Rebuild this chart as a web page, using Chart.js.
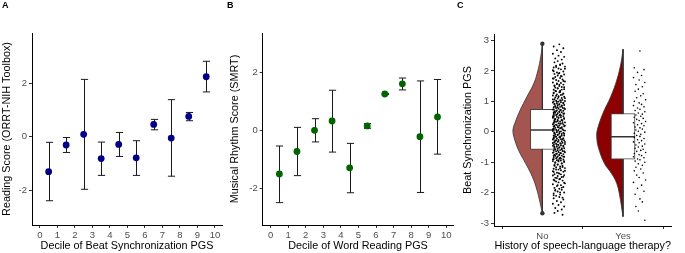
<!DOCTYPE html>
<html>
<head>
<meta charset="utf-8">
<script src="https://cdn.jsdelivr.net/npm/chart.js@4.4.1/dist/chart.umd.min.js"></script>
<style>
  body { margin: 0; background: #fff; }
  #wrap { position: relative; width: 685px; height: 253px; overflow: hidden; }
  canvas { position: absolute; top: 0; }
  .tag { position: absolute; top: 0; font: bold 9px 'Liberation Sans', Arial, sans-serif; color: #000; }
</style>
</head>
<body>
<div id="wrap">
  <canvas id="chartA" width="228" height="253" style="left:0"></canvas>
  <canvas id="chartB" width="233" height="253" style="left:228px"></canvas>
  <canvas id="chartC" width="224" height="253" style="left:461px"></canvas>
  <div class="tag" style="left:2px">A</div>
  <div class="tag" style="left:227px">B</div>
  <div class="tag" style="left:457px">C</div>
</div>
<script>
// panel A / B: decile means with error bars
const deciles = [0.5, 1.5, 2.5, 3.5, 4.5, 5.5, 6.5, 7.5, 8.5, 9.5];
const decileTicks = [0, 1, 2, 3, 4, 5, 6, 7, 8, 9, 10];
const scoreTicks = [-2, 0, 2];

const readingMean = [-1.31, -0.31, 0.09, -0.82, -0.29, -0.79, 0.46, -0.05, 0.76, 2.25];
const readingLo = [-2.40, -0.59, -1.97, -1.45, -0.74, -1.45, 0.26, -1.48, 0.60, 1.68];
const readingHi = [-0.21, -0.03, 2.15, -0.20, 0.16, -0.15, 0.65, 1.39, 0.91, 2.83];

const rhythmMean = [-1.50, -0.73, 0.00, 0.32, -1.29, 0.15, 1.25, 1.60, -0.22, 0.46];
const rhythmLo = [-2.49, -1.56, -0.40, -0.75, -2.15, 0.07, 1.23, 1.39, -2.14, -0.82];
const rhythmHi = [-0.54, 0.10, 0.40, 1.38, -0.45, 0.23, 1.27, 1.80, 1.70, 1.75];

// panel C: raincloud of beat synchronization PGS
const groups = ['No', 'Yes'];
const groupTicks = [1, 2];
const pgsTicks = [-3, -2, -1, 0, 1, 2, 3];

const noViolinY = [2.89, 2.47, 2.03, 1.60, 1.15, 0.71, 0.28, 0.06, -0.16, -0.60, -1.04, -1.48, -1.92, -2.36, -2.67];
const noViolinW = [0, 0.020, 0.054, 0.104, 0.192, 0.276, 0.342, 0.365, 0.354, 0.296, 0.207, 0.123, 0.066, 0.026, 0];
const yesViolinY = [2.71, 2.25, 1.70, 1.15, 0.60, 0.06, -0.16, -0.49, -1.04, -1.37, -1.70, -2.14, -2.58, -2.78];
const yesViolinW = [0, 0.026, 0.077, 0.153, 0.250, 0.319, 0.326, 0.308, 0.230, 0.142, 0.077, 0.038, 0.012, 0];

// q1, median, q3
const noBox = [-0.58, 0.06, 0.74];
const yesBox = [-0.90, -0.16, 0.60];
const noOutliers = [2.89, -2.67];

const noPoints = [
  2.87, 2.80, 2.74, 2.68, 2.62, 2.56, 2.50, 2.46, 2.41, 2.37, 2.32, 2.28, 2.24, 2.21, 2.17, 2.14, 2.11, 2.08, 2.05, 2.02,
  1.98, 1.95, 1.93, 1.90, 1.88, 1.85, 1.82, 1.80, 1.77, 1.75, 1.72, 1.70, 1.67, 1.65, 1.62, 1.60, 1.57, 1.55, 1.52, 1.50,
  1.47, 1.45, 1.43, 1.40, 1.38, 1.35, 1.33, 1.30, 1.28, 1.26, 1.23, 1.21, 1.19, 1.17, 1.15, 1.13, 1.11, 1.09, 1.07, 1.05,
  1.04, 1.02, 1.01, 1.00, 0.99, 0.97, 0.96, 0.94, 0.93, 0.91, 0.90, 0.88, 0.87, 0.85, 0.84, 0.82, 0.81, 0.79, 0.78, 0.76,
  0.75, 0.73, 0.72, 0.70, 0.69, 0.67, 0.66, 0.64, 0.63, 0.61, 0.60, 0.58, 0.57, 0.55, 0.54, 0.52, 0.51, 0.49, 0.48, 0.46,
  0.45, 0.43, 0.42, 0.40, 0.39, 0.37, 0.36, 0.34, 0.33, 0.31, 0.30, 0.28, 0.27, 0.25, 0.24, 0.22, 0.21, 0.19, 0.18, 0.16,
  0.15, 0.13, 0.12, 0.10, 0.09, 0.07, 0.06, 0.04, 0.03, 0.01, -0.01, -0.03, -0.04, -0.06, -0.07, -0.09, -0.10, -0.12, -0.13, -0.15,
  -0.16, -0.18, -0.19, -0.21, -0.22, -0.24, -0.25, -0.27, -0.28, -0.30, -0.31, -0.33, -0.34, -0.36, -0.37, -0.39, -0.40, -0.42, -0.43, -0.45,
  -0.46, -0.48, -0.49, -0.51, -0.52, -0.54, -0.55, -0.57, -0.58, -0.60, -0.61, -0.63, -0.64, -0.66, -0.67, -0.69, -0.70, -0.72, -0.73, -0.75,
  -0.76, -0.78, -0.79, -0.81, -0.82, -0.84, -0.85, -0.87, -0.88, -0.90, -0.91, -0.93, -0.94, -0.96, -0.97, -0.99, -1.02, -1.04, -1.07, -1.09,
  -1.11, -1.14, -1.16, -1.19, -1.21, -1.24, -1.26, -1.29, -1.31, -1.34, -1.37, -1.39, -1.42, -1.45, -1.48, -1.51, -1.54, -1.57, -1.60, -1.63,
  -1.66, -1.69, -1.72, -1.75, -1.78, -1.81, -1.84, -1.87, -1.90, -1.93, -1.96, -1.99, -2.02, -2.06, -2.10, -2.14, -2.18, -2.22, -2.27, -2.31,
  -2.36, -2.40, -2.45, -2.50, -2.55, -2.60, -2.66, -2.72,
  2.19, 2.13, 2.07, 1.99, 1.91, 1.83, 1.75, 1.67, 1.585, 1.545, 1.505, 1.465, 1.425, 1.385, 1.345, 1.305, 1.265, 1.225,
  1.185, 1.145, 1.105, 1.065, 1.025, 0.985, 0.955, 0.925, 0.895, 0.865, 0.835, 0.805, 0.775, 0.745, 0.715, 0.685, 0.655,
  0.625, 0.595, 0.565, 0.535, 0.505, 0.475, 0.445, 0.415, 0.385, 0.355, 0.325, 0.295, 0.265, 0.235, 0.205, 0.175, 0.145,
  0.115, 0.085, 0.055, 0.025, -0.005, -0.035, -0.065, -0.095, -0.125, -0.155, -0.185, -0.215, -0.245, -0.275, -0.305,
  -0.335, -0.365, -0.395, -0.425, -0.455, -0.485, -0.515, -0.545, -0.575, -0.605, -0.635, -0.665, -0.695, -0.725, -0.755,
  -0.785, -0.815, -0.845, -0.875, -0.905, -0.935, -0.965, -0.995, -1.035, -1.075, -1.115, -1.155, -1.195, -1.235, -1.275,
  -1.315, -1.355, -1.395, -1.435, -1.475, -1.515, -1.555, -1.595, -1.67, -1.75, -1.83, -1.91, -1.99, -2.08, -2.16
];
const yesPoints = [
  2.65, 2.10, 2.04, 1.95, 1.85, 1.78, 1.70, 1.62, 1.55, 1.48, 1.40, 1.33, 1.25, 1.18, 1.12, 1.05, 1.00, 0.95, 0.90, 0.86,
  0.82, 0.78, 0.74, 0.70, 0.66, 0.62, 0.58, 0.55, 0.51, 0.48, 0.44, 0.41, 0.37, 0.34, 0.30, 0.27, 0.23, 0.20, 0.16, 0.13,
  0.09, 0.06, 0.02, -0.01, -0.05, -0.08, -0.12, -0.15, -0.19, -0.22, -0.26, -0.29, -0.33, -0.36, -0.40, -0.43, -0.47, -0.50, -0.54, -0.57,
  -0.61, -0.64, -0.68, -0.71, -0.75, -0.78, -0.82, -0.85, -0.89, -0.92, -0.96, -1.00, -1.05, -1.10, -1.16, -1.22, -1.28, -1.35, -1.42, -1.50,
  -1.58, -1.66, -1.75, -1.85, -1.95, -2.05, -2.20, -2.30, -2.45, -2.60, -2.90
];
// horizontal jitter (x offset to the right of each group)
const jitter = [0.21, 0.14, 0.26, 0.18, 0.23, 0.13, 0.20, 0.27, 0.16, 0.24, 0.19, 0.15, 0.25, 0.22, 0.17, 0.28,
  0.14, 0.20, 0.23, 0.13, 0.26, 0.18, 0.21, 0.15, 0.27, 0.19, 0.24, 0.16, 0.22, 0.14, 0.25, 0.17, 0.20, 0.28,
  0.13, 0.23, 0.18, 0.26, 0.15, 0.21, 0.24, 0.16, 0.19, 0.27, 0.14, 0.22, 0.17];

Chart.defaults.font.family = "'Liberation Sans', Arial, sans-serif";
Chart.defaults.animation = false;
Chart.defaults.plugins.legend.display = false;
Chart.defaults.plugins.tooltip.enabled = false;

function axis(o) {
  return {
    type: 'linear', min: o.min, max: o.max, offset: false,
    afterBuildTicks: s => { s.ticks = o.ticks.map(v => ({ value: v })); },
    afterFit: s => { if (o.horizontal) s.height = o.size; else s.width = o.size; },
    grid: { drawOnChartArea: false, drawTicks: true, tickLength: 3, tickColor: '#333', tickWidth: 1 },
    border: { display: true, color: '#000', width: 1 },
    ticks: {
      color: '#4d4d4d', font: { size: 9.5 }, padding: 2, autoSkip: false, maxRotation: 0,
      callback: (v, i) => o.labels ? o.labels[i] : String(v)
    },
    title: { display: true, text: o.title, color: '#000', font: { size: 10.8 }, padding: { top: 1, bottom: 0 } }
  };
}

const errorBars = {
  id: 'errorBars',
  beforeDatasetsDraw(chart) {
    const { ctx, scales: { x, y } } = chart;
    const ds = chart.data.datasets[0];
    ctx.save();
    ctx.strokeStyle = '#1a1a1a';
    ctx.lineWidth = 1;
    ds.data.forEach((p, i) => {
      const px = Math.round(x.getPixelForValue(p.x)) + 0.5;
      const top = y.getPixelForValue(ds.hi[i]);
      const bot = y.getPixelForValue(ds.lo[i]);
      ctx.beginPath();
      ctx.moveTo(px, top); ctx.lineTo(px, bot);
      ctx.moveTo(px - 3.6, top); ctx.lineTo(px + 3.6, top);
      ctx.moveTo(px - 3.6, bot); ctx.lineTo(px + 3.6, bot);
      ctx.stroke();
    });
    ctx.restore();
  }
};

function decilePanel(id, means, lo, hi, color, xTitle, yTitle, yMin, yMax, yWidth, padRight) {
  new Chart(document.getElementById(id), {
    type: 'scatter',
    data: {
      datasets: [{
        data: deciles.map((d, i) => ({ x: d, y: means[i] })),
        lo: lo, hi: hi,
        backgroundColor: color, borderWidth: 0, pointRadius: 3.4
      }]
    },
    options: {
      responsive: false,
      layout: { padding: { top: 33, right: padRight, left: 0, bottom: 0 } },
      scales: {
        x: axis({ min: -0.45, max: 10.4, ticks: decileTicks, title: xTitle, horizontal: true, size: 28 }),
        y: axis({ min: yMin, max: yMax, ticks: scoreTicks, title: yTitle, size: yWidth })
      }
    },
    plugins: [errorBars]
  });
}

decilePanel('chartA', readingMean, readingLo, readingHi, '#00008b',
  'Decile of Beat Synchronization PGS', 'Reading Score (ORRT-NIH Toolbox)', -3.31, 3.89, 32, 6);
decilePanel('chartB', rhythmMean, rhythmLo, rhythmHi, '#006400',
  'Decile of Word Reading PGS', 'Musical Rhythm Score (SMRT)', -3.26, 3.35, 34.7, 7.7);

function violin(center, ys, ws) {
  return ys.map((v, i) => ({ x: center - ws[i], y: v }));
}
function rain(center, ys) {
  return ys.map((v, i) => ({ x: center + jitter[i % jitter.length], y: v }));
}

new Chart(document.getElementById('chartC'), {
  type: 'scatter',
  data: {
    datasets: [
      { type: 'line', indexAxis: 'y', data: violin(1, noViolinY, noViolinW), fill: { value: 1 },
        backgroundColor: '#a5554f', borderColor: '#333', borderWidth: 0.8, pointRadius: 0, tension: 0.4, order: 6 },
      { type: 'line', indexAxis: 'y', data: violin(2, yesViolinY, yesViolinW), fill: { value: 2 },
        backgroundColor: '#8b0000', borderColor: '#333', borderWidth: 0.8, pointRadius: 0, tension: 0.4, order: 6 },
      { type: 'line', data: [{ x: 1, y: noViolinY[0] }, { x: 1, y: noViolinY[noViolinY.length - 1] }],
        borderColor: '#333', borderWidth: 1, pointRadius: 0, fill: false, order: 5 },
      { type: 'line', data: [{ x: 2, y: yesViolinY[0] }, { x: 2, y: yesViolinY[yesViolinY.length - 1] }],
        borderColor: '#333', borderWidth: 1, pointRadius: 0, fill: false, order: 5 },
      { type: 'bar', data: [{ x: 1, y: [noBox[0], noBox[2]] }, { x: 2, y: [yesBox[0], yesBox[2]] }],
        backgroundColor: '#fff', borderColor: '#444', borderWidth: 1, borderSkipped: false, barThickness: 24, order: 4 },
      { data: [{ x: 1, y: noBox[1] }, { x: 2, y: yesBox[1] }],
        pointStyle: 'line', pointRadius: 12, borderColor: '#333', borderWidth: 1.6, order: 3 },
      { data: noOutliers.map(v => ({ x: 1, y: v })), pointRadius: 2.2, backgroundColor: '#333', borderWidth: 0, order: 2 },
      { data: rain(1, noPoints), pointRadius: 0.95, backgroundColor: '#000', borderWidth: 0, order: 1 },
      { data: rain(2, yesPoints), pointRadius: 0.8, backgroundColor: '#000', borderWidth: 0, order: 1 }
    ]
  },
  options: {
    responsive: false,
    layout: { padding: { top: 34, right: 0, left: 0, bottom: 0 } },
    scales: {
      x: axis({ min: 0.4, max: 2.6, ticks: groupTicks, labels: groups, title: 'History of speech-language therapy?', horizontal: true, size: 27 }),
      y: axis({ min: -3.09, max: 3.21, ticks: pgsTicks, title: 'Beat Synchronization PGS', size: 33 })
    }
  }
});
</script>
</body>
</html>
